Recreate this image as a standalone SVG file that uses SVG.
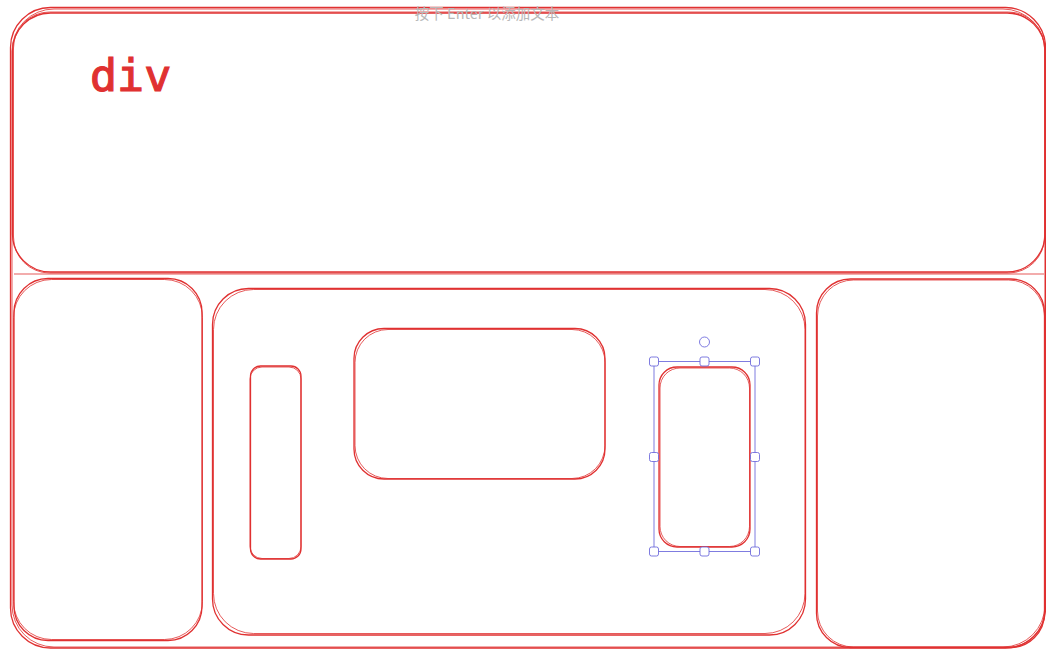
<svg xmlns="http://www.w3.org/2000/svg" width="1046" height="649" viewBox="0 0 1046 649">
  <style>
    .s { fill: none; stroke: #e03131; stroke-width: 1.3; stroke-linecap: round; }
    .s2 { fill: none; stroke: #e03131; stroke-width: 1; stroke-opacity: 0.8; }
    .sel { fill: none; stroke: #6965db; stroke-width: 1; stroke-opacity: 0.85; }
    .h { fill: #ffffff; stroke: #6965db; stroke-width: 1; stroke-opacity: 0.85; }
    .hint { font-family: "Noto Sans CJK SC", "Noto Sans", sans-serif; font-size: 14.5px; fill: #b8b8b8; }
    .code { font-family: "DejaVu Sans Mono", "Liberation Mono", monospace; font-size: 45px; fill: #e03131; stroke: #e03131; stroke-width: 1.2; }
  </style>
  <rect width="1046" height="649" fill="#ffffff"/>

  <g id="outer">
    <rect class="s" x="10.5" y="7.5" width="1035" height="640.5" rx="40"/>
    <rect class="s2" x="12" y="9" width="1033" height="638" rx="42"/>
  </g>

  <g id="header">
    <rect class="s" x="12.5" y="13" width="1032.5" height="259" rx="38"/>
    <rect class="s2" x="13.5" y="12" width="1031" height="261" rx="36"/>
    <line class="s2" x1="14" y1="274" x2="1044" y2="274"/>
    <text class="code" x="90" y="91">div</text>
  </g>

  <g id="left-col">
    <rect class="s" x="14" y="278.5" width="188" height="362" rx="34"/>
    <rect class="s2" x="13.5" y="279.5" width="189" height="360" rx="38"/>
  </g>

  <g id="main">
    <rect class="s" x="212.5" y="288.5" width="593" height="346.5" rx="36"/>
    <rect class="s2" x="213.5" y="289.5" width="591.5" height="344" rx="40"/>
  </g>

  <g id="right-col">
    <rect class="s" x="816.5" y="279" width="228" height="368.5" rx="34"/>
    <rect class="s2" x="817.5" y="280" width="227" height="367" rx="36"/>
  </g>

  <g id="tall-box">
    <rect class="s" x="250.5" y="366" width="50.5" height="193" rx="10"/>
    <rect class="s2" x="250" y="367" width="51" height="191.5" rx="12"/>
  </g>

  <g id="wide-box">
    <rect class="s" x="354" y="328.5" width="251" height="150.5" rx="30"/>
    <rect class="s2" x="355" y="329.5" width="250" height="149" rx="33"/>
  </g>

  <g id="selected-box">
    <rect class="s" x="659" y="367" width="91" height="180" rx="18"/>
    <rect class="s2" x="660" y="368" width="89.5" height="178.5" rx="20"/>
  </g>

  <g id="selection">
    <rect class="sel" x="654" y="361.5" width="101" height="190"/>
    <circle class="h" cx="704.5" cy="342" r="5"/>
    <rect class="h" x="649.5" y="357" width="9" height="9" rx="2"/>
    <rect class="h" x="700" y="357" width="9" height="9" rx="2"/>
    <rect class="h" x="750.5" y="357" width="9" height="9" rx="2"/>
    <rect class="h" x="649.5" y="452.5" width="9" height="9" rx="2"/>
    <rect class="h" x="750.5" y="452.5" width="9" height="9" rx="2"/>
    <rect class="h" x="649.5" y="547" width="9" height="9" rx="2"/>
    <rect class="h" x="700" y="547" width="9" height="9" rx="2"/>
    <rect class="h" x="750.5" y="547" width="9" height="9" rx="2"/>
  </g>

  <text class="hint" x="487" y="19" text-anchor="middle">按下 Enter 以添加文本</text>
</svg>
